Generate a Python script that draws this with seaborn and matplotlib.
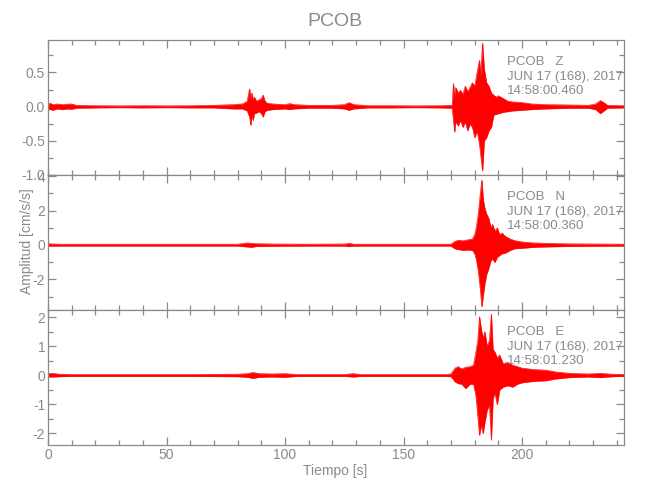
import numpy as np
import pandas as pd
import matplotlib
matplotlib.use("Agg")
import matplotlib.pyplot as plt
from matplotlib.ticker import MultipleLocator, FormatStrFormatter
import seaborn as sns

# ---------------- data (envelope of traces) ----------------
station = "PCOB"
channels = ["Z", "N", "E"]
start_times = ["14:58:00.460", "14:58:00.360", "14:58:01.230"]
date_label = "JUN 17 (168), 2017"

z_t = [0, 1, 2, 4, 6, 8, 10, 12, 20, 30, 40, 50, 60, 70, 78, 82, 84, 85, 85.5, 86, 86.5, 87, 88, 89, 90,
       90.7, 91.5, 92.5, 95, 100, 102, 104, 110, 120, 125, 127, 129, 135, 145, 155, 165, 170.5, 171, 171.5,
       172, 173, 174, 175, 176, 177, 178, 179, 180, 181, 182, 182.5, 183.3, 184, 185, 186, 187, 188, 189,
       190, 192, 194, 196, 200, 204, 210, 220, 228, 231, 233, 234.5, 236, 243]
z_up = [0.04, 0.05, 0.03, 0.04, 0.03, 0.035, 0.04, 0.02, 0.015, 0.012, 0.015, 0.012, 0.015, 0.02, 0.03, 0.04,
        0.08, 0.26, 0.12, 0.2, 0.1, 0.14, 0.08, 0.1, 0.12, 0.17, 0.08, 0.05, 0.04, 0.03, 0.045, 0.03, 0.02,
        0.02, 0.03, 0.06, 0.03, 0.015, 0.015, 0.012, 0.015, 0.02, 0.34, 0.15, 0.28, 0.2, 0.24, 0.18, 0.3, 0.22,
        0.28, 0.35, 0.3, 0.5, 0.68, 0.45, 0.93, 0.55, 0.35, 0.3, 0.2, 0.17, 0.14, 0.16, 0.12, 0.08, 0.07, 0.06,
        0.04, 0.03, 0.025, 0.02, 0.04, 0.09, 0.06, 0.02, 0.015]
z_lo = [-0.04, -0.04, -0.05, -0.03, -0.04, -0.03, -0.035, -0.02, -0.015, -0.012, -0.015, -0.012, -0.015,
        -0.015, -0.03, -0.03, -0.06, -0.15, -0.27, -0.12, -0.2, -0.1, -0.09, -0.07, -0.1, -0.15, -0.07, -0.05,
        -0.04, -0.03, -0.04, -0.03, -0.02, -0.02, -0.03, -0.05, -0.03, -0.015, -0.015, -0.012, -0.015, -0.02,
        -0.2, -0.37, -0.22, -0.28, -0.2, -0.3, -0.22, -0.35, -0.25, -0.3, -0.45, -0.35, -0.55, -0.7, -0.94,
        -0.5, -0.45, -0.35, -0.3, -0.12, -0.11, -0.1, -0.08, -0.07, -0.06, -0.05, -0.04, -0.03, -0.02, -0.02,
        -0.04, -0.1, -0.06, -0.02, -0.015]

n_t = [0, 2, 5, 20, 40, 60, 80, 84, 86, 88, 95, 110, 125, 127, 129, 150, 170, 171.5, 173, 175, 177, 179, 180,
       180.6, 181.5, 182.3, 183.0, 183.6, 184.3, 185, 185.9, 186.8, 187.5, 188.5, 189.5, 190.5, 191.5, 193,
       195, 197, 200, 205, 210, 220, 243]
n_up = [0.08, 0.06, 0.05, 0.05, 0.05, 0.05, 0.05, 0.12, 0.1, 0.08, 0.06, 0.05, 0.06, 0.1, 0.05, 0.05, 0.05,
        0.2, 0.28, 0.25, 0.3, 0.35, 0.6, 0.97, 1.8, 2.9, 3.77, 2.6, 2.1, 1.8, 1.55, 1.0, 1.2, 0.8, 1.0, 0.6,
        0.7, 0.5, 0.35, 0.25, 0.18, 0.12, 0.1, 0.07, 0.05]
n_lo = [-0.06, -0.05, -0.05, -0.05, -0.05, -0.05, -0.05, -0.1, -0.12, -0.07, -0.06, -0.05, -0.05, -0.08,
        -0.05, -0.05, -0.05, -0.2, -0.25, -0.3, -0.28, -0.3, -0.5, -0.8, -1.5, -2.5, -3.57, -2.9, -2.2, -1.7,
        -1.35, -0.9, -0.8, -1.0, -0.7, -0.6, -0.5, -0.45, -0.3, -0.2, -0.18, -0.12, -0.1, -0.07, -0.05]

e_t = [0, 2, 5, 10, 30, 60, 80, 84, 86.5, 89, 95, 100, 105, 125, 128.7, 132, 150, 168, 170, 171.7, 173,
       174.5, 176.2, 178, 179.5, 180.5, 181.3, 182.0, 182.8, 183.5, 184.3, 185.2, 186.2, 187.0, 187.7, 188.5,
       189.5, 190.5, 192, 194, 196, 198, 200, 205, 210, 214, 220, 228, 233, 238, 243]
e_up = [0.06, 0.07, 0.04, 0.03, 0.03, 0.03, 0.04, 0.06, 0.1, 0.06, 0.05, 0.06, 0.03, 0.03, 0.06, 0.03, 0.03,
        0.03, 0.05, 0.25, 0.3, 0.22, 0.28, 0.3, 0.35, 0.8, 1.2, 2.02, 1.56, 1.3, 1.5, 1.0, 1.2, 2.11, 0.9, 0.8,
        0.6, 0.7, 0.4, 0.45, 0.35, 0.3, 0.25, 0.2, 0.18, 0.12, 0.07, 0.05, 0.07, 0.04, 0.03]
e_lo = [-0.05, -0.05, -0.04, -0.03, -0.03, -0.03, -0.04, -0.06, -0.1, -0.06, -0.05, -0.06, -0.03, -0.03,
        -0.05, -0.03, -0.03, -0.03, -0.04, -0.22, -0.28, -0.3, -0.45, -0.3, -0.3, -0.7, -1.4, -2.06, -1.7, -2.0,
        -1.6, -1.2, -1.0, -2.23, -0.8, -0.6, -1.0, -0.5, -0.4, -0.35, -0.4, -0.3, -0.25, -0.2, -0.18, -0.12,
        -0.07, -0.05, -0.07, -0.04, -0.03]

traces = [(z_t, z_up, z_lo), (n_t, n_up, n_lo), (e_t, e_up, e_lo)]
y_limits = [(-1.0, 0.975), (-3.77, 4.06), (-2.4, 2.25)]
y_major = [0.5, 2, 1]
y_minor = [0.25, 1, 0.5]
y_fmt = ["%.1f", "%d", "%d"]

# ---------------- style ----------------
sns.set_style("white")
grey = "#8a8a8a"
fam = ["Liberation Sans", "DejaVu Sans"]
plt.rcParams["font.family"] = fam
plt.rcParams["axes.unicode_minus"] = True

fig = plt.figure(figsize=(6.5, 5.0), dpi=100)
fig.patch.set_facecolor("white")

left, width = 48 / 650, 576 / 650
tops = [40, 175, 310]
h = 135

for i, ((t, up, lo), ylim) in enumerate(zip(traces, y_limits)):
    ax = fig.add_axes([left, 1 - (tops[i] + h) / 500, width, h / 500])
    df = pd.DataFrame({"t": t, "up": up, "lo": lo})
    ax.fill_between(df["t"], df["lo"], df["up"], color="red", lw=0.3, edgecolor="red")
    sns.lineplot(data=df, x="t", y="up", ax=ax, color="red", lw=0.4, estimator=None)
    sns.lineplot(data=df, x="t", y="lo", ax=ax, color="red", lw=0.4, estimator=None)
    ax.set_xlim(0, 243)
    ax.set_ylim(*ylim)
    ax.set_xlabel("")
    ax.set_ylabel("")
    for s in ax.spines.values():
        s.set_color(grey)
        s.set_linewidth(0.9)
        s.set_visible(True)
    ax.xaxis.set_major_locator(MultipleLocator(50))
    ax.xaxis.set_minor_locator(MultipleLocator(10))
    ax.yaxis.set_major_locator(MultipleLocator(y_major[i]))
    ax.yaxis.set_minor_locator(MultipleLocator(y_minor[i]))
    ax.yaxis.set_major_formatter(FormatStrFormatter(y_fmt[i]))
    ax.tick_params(which="both", direction="in", top=True, right=True, left=True, bottom=True,
                   color=grey, width=0.9, labelcolor=grey, labelsize=10, pad=2)
    ax.tick_params(which="major", length=6)
    ax.tick_params(which="minor", length=3.6)
    if i < 2:
        ax.tick_params(labelbottom=False)
    ax.text(0.797, 0.837, f"{station}   {channels[i]}", transform=ax.transAxes, va="center", ha="left",
            color=grey, fontsize=9.5)
    ax.text(0.797, 0.728, date_label, transform=ax.transAxes, va="center", ha="left", color=grey, fontsize=9.5)
    ax.text(0.797, 0.622, start_times[i], transform=ax.transAxes, va="center", ha="left", color=grey,
            fontsize=9.5)

fig.text(0.516, 0.957, station, ha="center", va="center", color=grey, fontsize=14)
fig.text(0.041, 0.517, "Amplitud [cm/s/s]", rotation=90, ha="center", va="center", color=grey, fontsize=10)
fig.text(0.515, 0.058, "Tiempo [s]", ha="center", va="center", color=grey, fontsize=10)

fig.savefig("out.png", dpi=100, facecolor="white")
